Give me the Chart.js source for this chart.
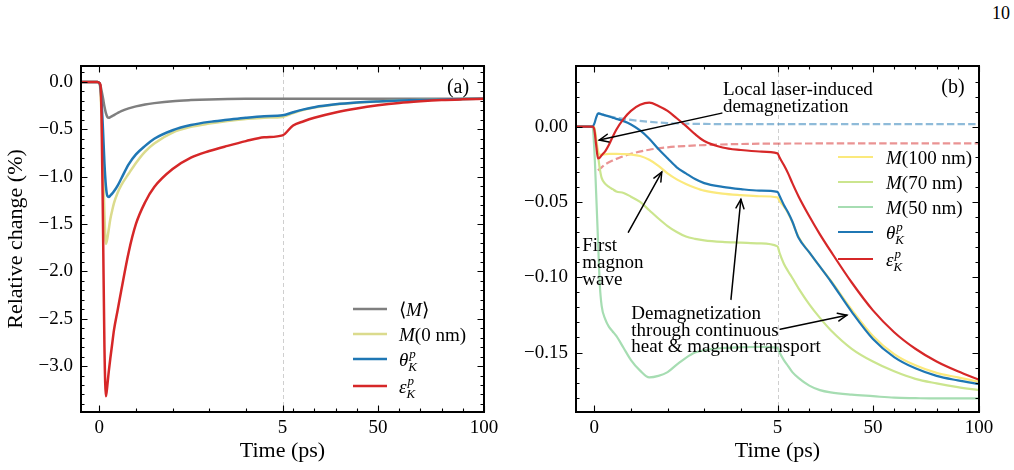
<!DOCTYPE html>
<html><head><meta charset="utf-8">
<script src="https://cdn.jsdelivr.net/npm/chart.js@4.4.1/dist/chart.umd.min.js"></script>
<style>
html,body{margin:0;padding:0;background:#fff;width:1014px;height:470px;overflow:hidden;}
.panel{position:absolute;top:0;width:507px;height:470px;}
#pa{left:0} #pb{left:507px}
#pagenum{position:absolute;right:4px;top:3px;font:18px "Liberation Serif",serif;color:#000;}
</style></head><body>
<div id="pagenum">10</div>
<div class="panel" id="pa"><canvas id="ca" width="507" height="470"></canvas></div>
<div class="panel" id="pb"><canvas id="cb" width="507" height="470"></canvas></div>
<script>
// ---------------- DATA ----------------
const xMajorTicks = [0, 5, 50, 100];
const xMinorTicks = [1, 2, 3, 4, 10, 20, 30, 40, 60, 70, 80, 90];
const yMajorA = [0, -0.5, -1.0, -1.5, -2.0, -2.5, -3.0];
const yMajorB = [0, -0.05, -0.10, -0.15];

// Panel (a)
const timeA = [-0.5,-0.05,0,0.03,0.06,0.1,0.14,0.18,0.22,0.26,0.3,0.35,0.4,0.5,0.6,0.8,1.0,1.25,1.5,2,2.5,3,3.5,4,4.5,5,10,15,20,30,40,50,60,70,80,90,100];
const avgM_A   = [0,0,-0.01,-0.04,-0.09,-0.17,-0.26,-0.33,-0.37,-0.378,-0.372,-0.362,-0.35,-0.328,-0.308,-0.28,-0.258,-0.238,-0.224,-0.203,-0.192,-0.185,-0.181,-0.179,-0.178,-0.178,-0.177,-0.177,-0.177,-0.177,-0.177,-0.178,-0.178,-0.178,-0.178,-0.178,-0.178];
const m0nm_A   = [0,0,-0.01,-0.1,-0.35,-0.85,-1.4,-1.71,-1.65,-1.55,-1.45,-1.36,-1.28,-1.17,-1.09,-0.97,-0.855,-0.735,-0.65,-0.535,-0.475,-0.44,-0.412,-0.392,-0.378,-0.37,-0.33,-0.295,-0.27,-0.238,-0.219,-0.207,-0.197,-0.19,-0.185,-0.181,-0.178];
const thetaK_A = [0,0,-0.01,-0.06,-0.2,-0.5,-0.86,-1.1,-1.205,-1.215,-1.2,-1.18,-1.155,-1.095,-1.02,-0.87,-0.765,-0.675,-0.6,-0.51,-0.455,-0.422,-0.4,-0.378,-0.362,-0.353,-0.32,-0.29,-0.267,-0.237,-0.218,-0.206,-0.197,-0.19,-0.185,-0.181,-0.178];
const epsK_A   = [0,0,-0.01,-0.03,-0.35,-1.5,-2.8,-3.32,-3.2,-3.05,-2.92,-2.77,-2.62,-2.41,-2.2,-1.8,-1.5,-1.27,-1.11,-0.92,-0.8,-0.73,-0.675,-0.625,-0.585,-0.564,-0.46,-0.415,-0.378,-0.322,-0.28,-0.247,-0.222,-0.205,-0.192,-0.184,-0.178];

// Panel (b)
const timeB = [-0.5,-0.05,0,0.05,0.1,0.15,0.2,0.3,0.4,0.5,0.6,0.8,1.0,1.25,1.5,1.75,2,2.25,2.5,2.75,3,3.5,4,4.5,5,6,8,10,12,15,20,25,30,40,50,60,70,80,90,100];
const m100_B   = [0,0,-0.001,-0.008,-0.016,-0.0185,-0.0186,-0.0183,-0.018,-0.018,-0.018,-0.0182,-0.0185,-0.0195,-0.022,-0.026,-0.031,-0.035,-0.038,-0.0405,-0.0425,-0.0445,-0.0455,-0.0462,-0.047,-0.0495,-0.053,-0.0575,-0.0635,-0.0735,-0.0835,-0.093,-0.102,-0.1215,-0.139,-0.151,-0.1585,-0.1635,-0.1665,-0.1695];
const m70_B    = [0,0,-0.001,-0.01,-0.019,-0.028,-0.034,-0.038,-0.040,-0.0415,-0.043,-0.044,-0.0465,-0.050,-0.0555,-0.061,-0.066,-0.070,-0.073,-0.0745,-0.0755,-0.0765,-0.077,-0.0775,-0.0795,-0.084,-0.091,-0.096,-0.1005,-0.1075,-0.118,-0.127,-0.135,-0.1475,-0.156,-0.1625,-0.1675,-0.1705,-0.173,-0.175];
const m50_B    = [0,0,-0.015,-0.044,-0.075,-0.105,-0.119,-0.128,-0.133,-0.136,-0.139,-0.147,-0.155,-0.162,-0.1665,-0.1655,-0.163,-0.158,-0.1535,-0.150,-0.1485,-0.147,-0.1465,-0.1463,-0.1467,-0.150,-0.155,-0.159,-0.163,-0.167,-0.172,-0.175,-0.1765,-0.178,-0.179,-0.18,-0.1803,-0.1805,-0.1805,-0.1805];
const thetaK_B = [0,0,0.002,0.006,0.0088,0.0087,0.0083,0.0075,0.0068,0.006,0.0052,0.0037,0.0015,-0.0025,-0.008,-0.0148,-0.021,-0.027,-0.031,-0.0348,-0.0375,-0.040,-0.0415,-0.0425,-0.0433,-0.046,-0.052,-0.057,-0.063,-0.074,-0.0835,-0.093,-0.1025,-0.123,-0.141,-0.153,-0.1605,-0.1655,-0.1685,-0.171];
const epsK_B   = [0,0,-0.002,-0.012,-0.021,-0.0205,-0.019,-0.0162,-0.012,-0.0068,-0.002,0.0052,0.0105,0.0145,0.016,0.0138,0.0105,0.0056,0.0005,-0.005,-0.0095,-0.0138,-0.0155,-0.0165,-0.0177,-0.0205,-0.0255,-0.031,-0.0375,-0.0465,-0.0595,-0.0715,-0.0825,-0.1035,-0.122,-0.1365,-0.1475,-0.156,-0.1625,-0.168];
const timeThetaLocal = [0.1,0.3,0.5,0.75,1,1.5,2,2.5,3,4,5,100];
const thetaLocal_B   = [0.0088,0.0076,0.0064,0.0053,0.0045,0.0032,0.0024,0.0020,0.0018,0.0017,0.0017,0.0017];
const timeEpsLocal = [0.1,0.2,0.3,0.5,0.75,1,1.5,2,2.5,3,4,5,100];
const epsLocal_B   = [-0.029,-0.027,-0.025,-0.0225,-0.020,-0.018,-0.0153,-0.0137,-0.0128,-0.0122,-0.0115,-0.0112,-0.0111];

// Annotation texts (panel b), anchored in data coordinates
const annTexts = [
  { lines: ['Local laser-induced', 'demagnetization'], t: 3.51, v: 0.0244 },
  { lines: ['First', 'magnon', 'wave'], t: -0.33, v: -0.0795 },
  { lines: ['Demagnetization', 'through continuous', 'heat & magnon transport'], t: 1.01, v: -0.1246 }
];
const annArrows = [
  { from: [3.48, 0.0090], to: [0.137, -0.0089] },
  { from: [0.93, -0.0701], to: [1.84, -0.0302] },
  { from: [3.73, -0.1147], to: [4.0, -0.0483] },
  { from: [6.27, -0.1346], to: [37.7, -0.1252] }
];

// ---------------- SETUP ----------------
const SERIF = '"Liberation Serif", "Times New Roman", serif';
Chart.defaults.font.family = SERIF;
Chart.defaults.color = '#000';

class BrokenLinearScale extends Chart.LinearScale {
  static id = 'brokenLinear';
  static defaults = {};
  buildTicks() { return (this.options.majorTicks || []).map(v => ({ value: v })); }
  _frac(v) {
    const b = this.options.breakAt, lo = this.min, hi = this.max;
    return v <= b ? 0.5 * (v - lo) / (b - lo) : 0.5 + 0.5 * (v - b) / (hi - b);
  }
  getPixelForValue(v) { return this.getPixelForDecimal(this._frac(v)); }
  getValueForPixel(p) {
    const d = this.getDecimalForPixel(p), b = this.options.breakAt;
    return d <= 0.5 ? this.min + 2 * d * (b - this.min) : b + (d - 0.5) * 2 * (this.max - b);
  }
}
Chart.register(BrokenLinearScale);

const pts = (ts, vs) => ts.map((t, i) => ({ x: t, y: vs[i] }));
const fmt = dec => v => (Math.abs(v) < 1e-12 ? (0).toFixed(dec) : (v < 0 ? '\u2212' : '') + Math.abs(v).toFixed(dec));

function drawRich(ctx, x, y, parts, size) {
  let cx = x;
  ctx.textAlign = 'left'; ctx.textBaseline = 'alphabetic';
  for (const p of parts) {
    ctx.font = (p.it ? 'italic ' : '') + size + 'px ' + SERIF;
    ctx.fillText(p.t, cx, y);
    cx += ctx.measureText(p.t).width;
    if (p.sup || p.sub) {
      const s = Math.round(size * 0.7);
      ctx.font = 'italic ' + s + 'px ' + SERIF;
      let w = 0;
      if (p.sup) { ctx.fillText(p.sup, cx + 1, y - size * 0.42); w = Math.max(w, ctx.measureText(p.sup).width); }
      if (p.sub) { ctx.fillText(p.sub, cx, y + size * 0.3); w = Math.max(w, ctx.measureText(p.sub).width); }
      cx += w;
    }
  }
}

function drawArrow(ctx, x1, y1, x2, y2) {
  const ang = Math.atan2(y2 - y1, x2 - x1), L = 9, W = 4;
  ctx.beginPath(); ctx.moveTo(x1, y1); ctx.lineTo(x2, y2); ctx.stroke();
  const bx = x2 - L * Math.cos(ang), by = y2 - L * Math.sin(ang);
  const nx = -Math.sin(ang), ny = Math.cos(ang);
  ctx.beginPath();
  ctx.moveTo(bx + W * nx, by + W * ny); ctx.lineTo(x2, y2); ctx.lineTo(bx - W * nx, by - W * ny);
  ctx.stroke();
}

const decoPlugin = {
  id: 'deco',
  beforeDatasetsDraw(chart, args, o) {
    const { ctx, chartArea: a, scales: { x } } = chart;
    const px = Math.round(x.getPixelForValue(o.breakAt)) + 0.5;
    ctx.save();
    ctx.strokeStyle = '#cfcfcf'; ctx.lineWidth = 1; ctx.setLineDash([4, 3]);
    ctx.beginPath(); ctx.moveTo(px, a.top); ctx.lineTo(px, a.bottom); ctx.stroke();
    ctx.restore();
  },
  afterDatasetsDraw(chart, args, o) {
    const { ctx, chartArea: a, scales: { x, y } } = chart;
    ctx.save();
    ctx.strokeStyle = '#000'; ctx.lineWidth = 1.1; ctx.setLineDash([]);
    const tickX = (vals, len) => vals.forEach(v => {
      const p = Math.round(x.getPixelForValue(v)) + 0.5;
      ctx.beginPath(); ctx.moveTo(p, a.bottom); ctx.lineTo(p, a.bottom - len);
      ctx.moveTo(p, a.top); ctx.lineTo(p, a.top + len); ctx.stroke();
    });
    const tickY = (vals, len) => vals.forEach(v => {
      if (v < y.min - 1e-9 || v > y.max + 1e-9) return;
      const p = Math.round(y.getPixelForValue(v)) + 0.5;
      ctx.beginPath(); ctx.moveTo(a.left, p); ctx.lineTo(a.left + len, p);
      ctx.moveTo(a.right, p); ctx.lineTo(a.right - len, p); ctx.stroke();
    });
    tickX(o.xMajor, 6.5); tickX(o.xMinor, 3.5);
    const yMinor = [];
    for (let k = Math.ceil(y.min / o.yMinorStep); k * o.yMinorStep <= y.max + 1e-12; k++) yMinor.push(k * o.yMinorStep);
    tickY(o.yMajor, 6.5); tickY(yMinor, 3.5);
    ctx.lineWidth = 2;
    ctx.strokeRect(a.left, a.top, a.right - a.left, a.bottom - a.top);

    // panel label
    ctx.fillStyle = '#000';
    ctx.font = '20px ' + SERIF; ctx.textAlign = 'center'; ctx.textBaseline = 'middle';
    ctx.fillText(o.panelLabel, a.right - 26, a.top + 22);

    // legend
    const lg = o.legend;
    lg.items.forEach((it, i) => {
      const ds = chart.data.datasets[it.ds];
      const ry = (lg.anchor === 'bottom' ? a.bottom : a.top) + lg.rows[i];
      ctx.save();
      ctx.strokeStyle = ds.borderColor; ctx.lineWidth = ds.borderWidth; ctx.setLineDash(ds.borderDash || []);
      ctx.beginPath(); ctx.moveTo(a.right + lg.lineX0, ry); ctx.lineTo(a.right + lg.lineX1, ry); ctx.stroke();
      ctx.restore();
      ctx.fillStyle = '#000';
      drawRich(ctx, a.right + lg.textX, ry + 6.5, it.parts, 19);
    });

    // annotations
    if (o.texts) {
      ctx.fillStyle = '#000'; ctx.font = '19px ' + SERIF; ctx.textAlign = 'left'; ctx.textBaseline = 'middle';
      o.texts.forEach(tb => {
        const x0 = x.getPixelForValue(tb.t), y0 = y.getPixelForValue(tb.v);
        tb.lines.forEach((ln, j) => ctx.fillText(ln, x0, y0 + j * 16.6));
      });
      ctx.strokeStyle = '#000'; ctx.lineWidth = 1.5; ctx.lineCap = 'round'; ctx.lineJoin = 'miter';
      o.arrows.forEach(ar => drawArrow(ctx,
        x.getPixelForValue(ar.from[0]), y.getPixelForValue(ar.from[1]),
        x.getPixelForValue(ar.to[0]), y.getPixelForValue(ar.to[1])));
    }
    ctx.restore();
  }
};

function xScale() {
  return {
    type: 'brokenLinear', min: -0.5, max: 100, breakAt: 5, majorTicks: xMajorTicks,
    grid: { display: false, drawTicks: false }, border: { display: false },
    ticks: { autoSkip: false, maxRotation: 0, padding: 5, font: { size: 19 }, callback: v => String(v) },
    title: { display: true, text: 'Time (ps)', font: { size: 22 }, padding: { top: 0, bottom: 6 } },
    afterFit: s => { s.height = 58; }
  };
}
const baseLine = { pointRadius: 0, cubicInterpolationMode: 'monotone', borderJoinStyle: 'round', borderCapStyle: 'butt', fill: false };

// ---------------- PANEL (a) ----------------
new Chart(document.getElementById('ca'), {
  type: 'line',
  data: { datasets: [
    { ...baseLine, label: '<M>', data: pts(timeA, avgM_A), borderColor: '#7f7f7f', borderWidth: 2.5, order: 3 },
    { ...baseLine, label: 'M(0 nm)', data: pts(timeA, m0nm_A), borderColor: '#dbdb8d', borderWidth: 2.5, order: 2 },
    { ...baseLine, label: 'theta', data: pts(timeA, thetaK_A), borderColor: '#1f77b4', borderWidth: 2.5, order: 1 },
    { ...baseLine, label: 'eps', data: pts(timeA, epsK_A), borderColor: '#d62728', borderWidth: 2.5, order: 0 }
  ] },
  options: {
    responsive: false, animation: false, devicePixelRatio: 1,
    layout: { padding: { top: 66, right: 23, bottom: 0, left: 0 } },
    plugins: {
      legend: { display: false }, tooltip: { enabled: false },
      deco: {
        breakAt: 5, xMajor: xMajorTicks, xMinor: xMinorTicks, yMajor: yMajorA, yMinorStep: 0.1, panelLabel: '(a)',
        legend: { anchor: 'bottom', rows: [-103, -78, -53, -26], lineX0: -131, lineX1: -97, textX: -85,
          items: [
            { ds: 0, parts: [{ t: '\u27E8' }, { t: 'M', it: true }, { t: '\u27E9' }] },
            { ds: 1, parts: [{ t: 'M', it: true }, { t: '(0 nm)' }] },
            { ds: 2, parts: [{ t: '\u03B8', it: true, sup: 'p', sub: 'K' }] },
            { ds: 3, parts: [{ t: '\u03B5', it: true, sup: 'p', sub: 'K' }] }
          ] }
      }
    },
    scales: {
      x: xScale(),
      y: {
        type: 'linear', min: -3.485, max: 0.168,
        grid: { display: false, drawTicks: false }, border: { display: false },
        afterBuildTicks: s => { s.ticks = yMajorA.map(v => ({ value: v })); },
        ticks: { padding: 8, font: { size: 19 }, callback: fmt(1) },
        title: { display: true, text: 'Relative change (%)', font: { size: 22 }, padding: { top: 3, bottom: 0 } },
        afterFit: s => { s.width = 81; }
      }
    }
  },
  plugins: [decoPlugin]
});

// ---------------- PANEL (b) ----------------
new Chart(document.getElementById('cb'), {
  type: 'line',
  data: { datasets: [
    { ...baseLine, label: 'M(100 nm)', data: pts(timeB, m100_B), borderColor: '#fbe97c', borderWidth: 2.2, order: 4 },
    { ...baseLine, label: 'M(70 nm)', data: pts(timeB, m70_B), borderColor: '#cbe58e', borderWidth: 2.2, order: 3 },
    { ...baseLine, label: 'M(50 nm)', data: pts(timeB, m50_B), borderColor: '#a6ddb2', borderWidth: 2.2, order: 2 },
    { ...baseLine, label: 'theta', data: pts(timeB, thetaK_B), borderColor: '#1f77b4', borderWidth: 2.2, order: 1 },
    { ...baseLine, label: 'eps', data: pts(timeB, epsK_B), borderColor: '#d62728', borderWidth: 2.2, order: 0 },
    { ...baseLine, label: 'theta local', data: pts(timeThetaLocal, thetaLocal_B), borderColor: 'rgba(31,119,180,0.5)', borderWidth: 2.2, borderDash: [7.4, 3.2], order: 6 },
    { ...baseLine, label: 'eps local', data: pts(timeEpsLocal, epsLocal_B), borderColor: 'rgba(214,39,40,0.5)', borderWidth: 2.2, borderDash: [7.4, 3.2], order: 5 }
  ] },
  options: {
    responsive: false, animation: false, devicePixelRatio: 1,
    layout: { padding: { top: 66, right: 35, bottom: 0, left: 0 } },
    plugins: {
      legend: { display: false }, tooltip: { enabled: false },
      deco: {
        breakAt: 5, xMajor: xMajorTicks, xMinor: xMinorTicks, yMajor: yMajorB, yMinorStep: 0.01, panelLabel: '(b)',
        legend: { anchor: 'top', rows: [91, 116, 141, 166, 193], lineX0: -141, lineX1: -106, textX: -93,
          items: [
            { ds: 0, parts: [{ t: 'M', it: true }, { t: '(100 nm)' }] },
            { ds: 1, parts: [{ t: 'M', it: true }, { t: '(70 nm)' }] },
            { ds: 2, parts: [{ t: 'M', it: true }, { t: '(50 nm)' }] },
            { ds: 3, parts: [{ t: '\u03B8', it: true, sup: 'p', sub: 'K' }] },
            { ds: 4, parts: [{ t: '\u03B5', it: true, sup: 'p', sub: 'K' }] }
          ] },
        texts: annTexts, arrows: annArrows
      }
    },
    scales: {
      x: xScale(),
      y: {
        type: 'linear', min: -0.1895, max: 0.0403,
        grid: { display: false, drawTicks: false }, border: { display: false },
        afterBuildTicks: s => { s.ticks = yMajorB.map(v => ({ value: v })); },
        ticks: { padding: 8, font: { size: 19 }, callback: fmt(2) },
        afterFit: s => { s.width = 69; }
      }
    }
  },
  plugins: [decoPlugin]
});
</script>
</body></html>
